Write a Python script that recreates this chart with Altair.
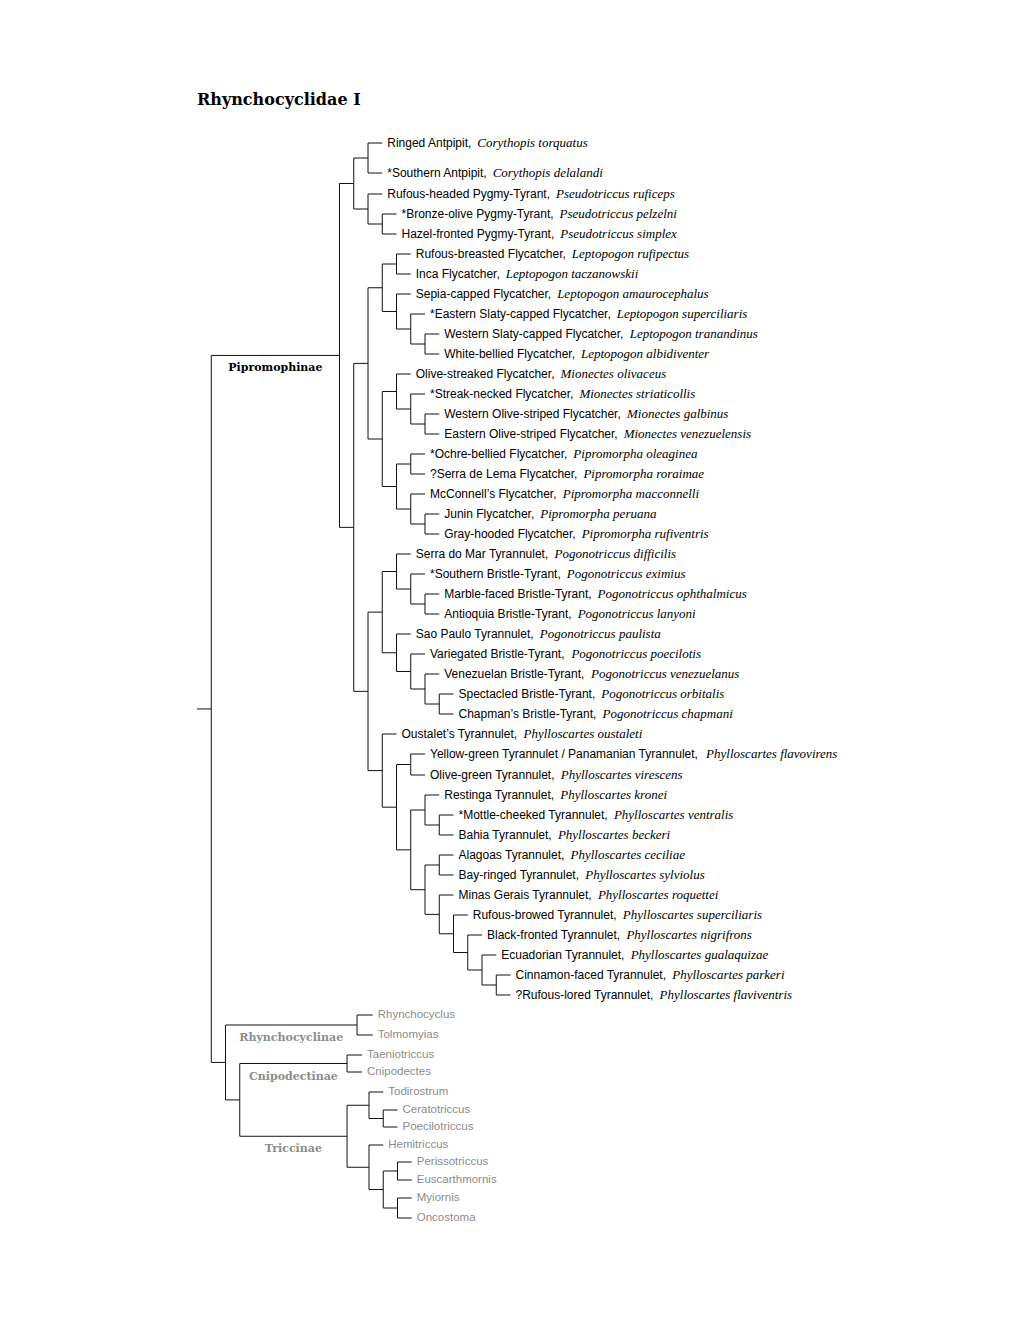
import altair as alt
import pandas as pd

# ---------------- data ----------------
title_text = "Rhynchocyclidae I"

common_names = [
    "Ringed Antpipit", "*Southern Antpipit", "Rufous-headed Pygmy-Tyrant",
    "*Bronze-olive Pygmy-Tyrant", "Hazel-fronted Pygmy-Tyrant",
    "Rufous-breasted Flycatcher", "Inca Flycatcher", "Sepia-capped Flycatcher",
    "*Eastern Slaty-capped Flycatcher", "Western Slaty-capped Flycatcher",
    "White-bellied Flycatcher", "Olive-streaked Flycatcher",
    "*Streak-necked Flycatcher", "Western Olive-striped Flycatcher",
    "Eastern Olive-striped Flycatcher", "*Ochre-bellied Flycatcher",
    "?Serra de Lema Flycatcher", "McConnell\u2019s Flycatcher", "Junin Flycatcher",
    "Gray-hooded Flycatcher", "Serra do Mar Tyrannulet", "*Southern Bristle-Tyrant",
    "Marble-faced Bristle-Tyrant", "Antioquia Bristle-Tyrant", "Sao Paulo Tyrannulet",
    "Variegated Bristle-Tyrant", "Venezuelan Bristle-Tyrant",
    "Spectacled Bristle-Tyrant", "Chapman\u2019s Bristle-Tyrant",
    "Oustalet\u2019s Tyrannulet", "Yellow-green Tyrannulet / Panamanian Tyrannulet",
    "Olive-green Tyrannulet", "Restinga Tyrannulet", "*Mottle-cheeked Tyrannulet",
    "Bahia Tyrannulet", "Alagoas Tyrannulet", "Bay-ringed Tyrannulet",
    "Minas Gerais Tyrannulet", "Rufous-browed Tyrannulet", "Black-fronted Tyrannulet",
    "Ecuadorian Tyrannulet", "Cinnamon-faced Tyrannulet", "?Rufous-lored Tyrannulet",
]

scientific_names = [
    "Corythopis torquatus", "Corythopis delalandi", "Pseudotriccus ruficeps",
    "Pseudotriccus pelzelni", "Pseudotriccus simplex", "Leptopogon rufipectus",
    "Leptopogon taczanowskii", "Leptopogon amaurocephalus", "Leptopogon superciliaris",
    "Leptopogon tranandinus", "Leptopogon albidiventer", "Mionectes olivaceus",
    "Mionectes striaticollis", "Mionectes galbinus", "Mionectes venezuelensis",
    "Pipromorpha oleaginea", "Pipromorpha roraimae", "Pipromorpha macconnelli",
    "Pipromorpha peruana", "Pipromorpha rufiventris", "Pogonotriccus difficilis",
    "Pogonotriccus eximius", "Pogonotriccus ophthalmicus", "Pogonotriccus lanyoni",
    "Pogonotriccus paulista", "Pogonotriccus poecilotis", "Pogonotriccus venezuelanus",
    "Pogonotriccus orbitalis", "Pogonotriccus chapmani", "Phylloscartes oustaleti",
    "Phylloscartes flavovirens", "Phylloscartes virescens", "Phylloscartes kronei",
    "Phylloscartes ventralis", "Phylloscartes beckeri", "Phylloscartes ceciliae",
    "Phylloscartes sylviolus", "Phylloscartes roquettei", "Phylloscartes superciliaris",
    "Phylloscartes nigrifrons", "Phylloscartes gualaquizae", "Phylloscartes parkeri",
    "Phylloscartes flaviventris",
]

genera = [
    "Rhynchocyclus", "Tolmomyias", "Taeniotriccus", "Cnipodectes", "Todirostrum",
    "Ceratotriccus", "Poecilotriccus", "Hemitriccus", "Perissotriccus",
    "Euscarthmornis", "Myiornis", "Oncostoma",
]

# vertical row of every leaf (species first, then genera), in rows
leaf_rows = [
    -2.55, -1.05, 0, 1, 2, 3, 4, 5, 6, 7, 8, 9, 10, 11, 12, 13, 14, 15, 16, 17,
    18, 19, 20, 21, 22, 23, 24, 25, 26, 27, 28, 29.05, 30.05, 31.05, 32.05,
    33.05, 34.05, 35.05, 36.05, 37.05, 38.05, 39.05, 40.05,
    41.05, 42.05, 43.05, 43.9, 44.9, 45.8, 46.65, 47.55, 48.4, 49.3, 50.2, 51.2,
]

subfamilies = ["Pipromophinae", "Rhynchocyclinae", "Cnipodectinae", "Triccinae"]
subfamily_gray = [False, True, True, True]


class Br:
    """A branch with a non-default length (and an optional subfamily label)."""
    def __init__(self, length, sub, label=None):
        self.length, self.sub, self.label = length, sub, label


pipromophinae = [
    [[0, 1], [2, [3, 4]]],
    [
        [
            [[5, 6], [7, [8, [9, 10]]]],
            [[11, [12, [13, 14]]], [[15, 16], [17, [18, 19]]]],
        ],
        [
            [[20, [21, [22, 23]]], [24, [25, [26, [27, 28]]]]],
            [29, [[30, 31], [[32, [33, 34]], [[35, 36], [37, [38, [39, [40, [41, 42]]]]]]]]],
        ],
    ],
]

tree = Br(1, [
    Br(9, pipromophinae, 0),
    [
        Br(9.23, [Br(1.1, 43), Br(1.1, 44)], 1),
        [
            Br(7.53, [Br(1.05, 45), Br(1.05, 46)], 2),
            Br(7.53, [Br(1.54, [47, [48, 49]]), Br(1.54, [50, [[51, 52], [53, 54]]])], 3),
        ],
    ],
])

# ---------------- layout (tree levels / rows -> scales) ----------------
UNIT_PX = 14.25   # pixels per tree level
ROW_PX = 20.0     # pixels per row
X0_PX = 189.0     # where level 0 sits inside the plot
Y0_PX = 186.0     # where row 0 sits inside the plot
W, H = 1004, 1300
TITLE_ROW = -4.45

segments, leaves, labels = [], [], []


def unpack(n):
    if isinstance(n, Br):
        return n.sub, n.length, n.label
    return n, 1.0, None


def place(n, px):
    sub, length, label = unpack(n)
    x = px + length
    if isinstance(sub, int):
        y = leaf_rows[sub]
        leaves.append((sub, x, y))
    else:
        ys = [place(c, x) for c in sub]
        y = (ys[0] + ys[-1]) / 2.0
        segments.append(dict(x=x, x2=x, y=min(ys), y2=max(ys)))
    segments.append(dict(x=px, x2=x, y=y, y2=y))
    if label is not None:
        labels.append(dict(text=subfamilies[label], x=(px + x) / 2.0, y=y,
                           gray=subfamily_gray[label]))
    return y


place(tree, 0.0)

# Helvetica / Arial advance widths (1/1000 em) to place the italic part
HELV = dict(zip("abcdefghijklmnopqrstuvwxyz",
                [556, 556, 500, 556, 556, 278, 556, 556, 222, 222, 500, 222, 833,
                 556, 556, 556, 556, 333, 500, 278, 556, 500, 722, 500, 500, 500]))
HELV.update(dict(zip("ABCDEFGHIJKLMNOPQRSTUVWXYZ",
                     [667, 667, 722, 722, 667, 611, 778, 722, 278, 500, 667, 556, 833,
                      722, 778, 667, 778, 722, 667, 611, 722, 667, 944, 667, 667, 611])))
HELV.update({" ": 278, ",": 278, "-": 333, "*": 389, "?": 556, "/": 278,
             "\u2019": 222, "'": 191})

SP_SIZE = 12
GEN_SIZE = 11.5
TEXT_GAP = 5


def text_width(s, size):
    return sum(HELV.get(c, 556) for c in s) * size / 1000.0


species_rows, genus_rows = [], []
for idx, x, y in leaves:
    if idx < len(common_names):
        head = common_names[idx] + ","
        w = text_width(head + " ", SP_SIZE) + 2
        species_rows.append(dict(common=head, sci=scientific_names[idx],
                                 x=x, xs=x + w / UNIT_PX, y=y))
    else:
        genus_rows.append(dict(name=genera[idx - len(common_names)], x=x, y=y))

seg_df = pd.DataFrame(segments)
sp_df = pd.DataFrame(species_rows)
gen_df = pd.DataFrame(genus_rows)
lab_df = pd.DataFrame(labels)
title_df = pd.DataFrame([dict(text=title_text, x=0.0, y=TITLE_ROW)])

xdom = [-X0_PX / UNIT_PX, (W - X0_PX) / UNIT_PX]
ydom = [-Y0_PX / ROW_PX, (H - Y0_PX) / ROW_PX]
xs = alt.Scale(domain=xdom, nice=False, zero=False)
ys = alt.Scale(domain=ydom, nice=False, zero=False, reverse=True)


def X(f):
    return alt.X(f, type="quantitative", scale=xs, axis=None)


def Y(f):
    return alt.Y(f, type="quantitative", scale=ys, axis=None)


rules = alt.Chart(seg_df).mark_rule(color="#111111", strokeWidth=1).encode(
    x=X("x"), x2="x2", y=Y("y"), y2="y2")

common_t = alt.Chart(sp_df).mark_text(
    align="left", baseline="middle", dx=TEXT_GAP, font="Liberation Sans",
    fontSize=SP_SIZE, color="#000000").encode(x=X("x"), y=Y("y"), text="common")

sci_t = alt.Chart(sp_df).mark_text(
    align="left", baseline="middle", dx=TEXT_GAP, font="Liberation Serif",
    fontStyle="italic", fontSize=13, color="#000000").encode(
    x=X("xs"), y=Y("y"), text="sci")

gen_t = alt.Chart(gen_df).mark_text(
    align="left", baseline="middle", dx=TEXT_GAP, font="Liberation Sans",
    fontSize=GEN_SIZE, color="#8c8c8c").encode(x=X("x"), y=Y("y"), text="name")

lab_t = alt.Chart(lab_df).mark_text(
    align="center", baseline="middle", dy=13, font="DejaVu Serif",
    fontWeight="bold", fontSize=11).encode(
    x=X("x"), y=Y("y"), text="text",
    color=alt.Color("gray:N", scale=alt.Scale(domain=[False, True],
                                               range=["#000000", "#8c8c8c"]),
                    legend=None))

title_t = alt.Chart(title_df).mark_text(
    align="left", baseline="alphabetic", font="DejaVu Serif", fontWeight="bold",
    fontSize=16, color="#000000").encode(x=X("x"), y=Y("y"), text="text")

chart = alt.layer(rules, common_t, sci_t, gen_t, lab_t, title_t).properties(
    width=W, height=H, padding=0,
    autosize=alt.AutoSizeParams(type="none"),
).configure_view(stroke=None)

chart.save("out.html", embed_options={"renderer": "svg", "actions": False})
